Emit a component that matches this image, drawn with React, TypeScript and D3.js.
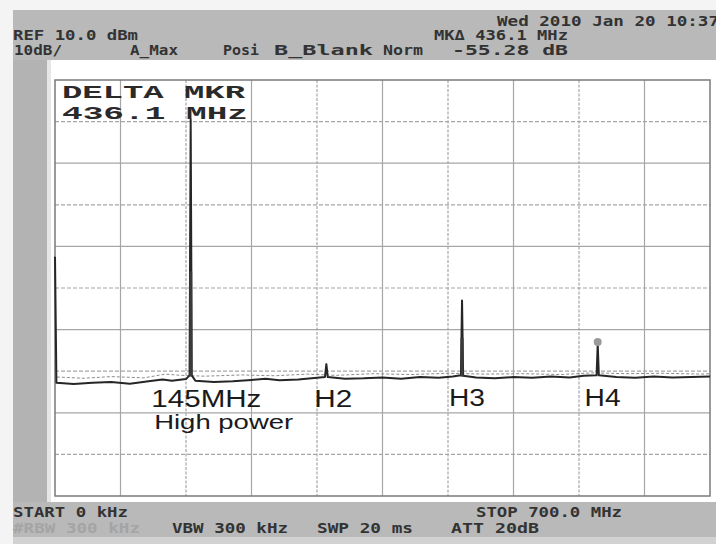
import React from "react";
import * as d3 from "d3";

// spectrum analyzer screen: 0-700 MHz, ref 10 dBm, 10 dB/div
const span = [0, 700];
const refLevel = 10;
const dbPerDiv = 10;

// trace (MHz, dBm)
const traceFreq = [0, 1.5, 20, 40, 60, 80, 100, 115, 125, 140, 143.8, 145, 146.2, 150, 170, 190, 210, 225, 240, 260, 280, 288.5, 290, 291.5, 310, 330, 350, 370, 390, 410, 425, 433.8, 435, 436.2, 450, 470, 490, 510, 530, 550, 565, 578.8, 580, 581.2, 600, 620, 640, 660, 680, 700];
const traceLevel = [-32.5, -62.8, -63.1, -62.8, -62.6, -63, -62.4, -62, -62.3, -61.9, -61, 0.5, -61, -62.3, -62.6, -62.4, -62.1, -61.8, -62.2, -62, -61.6, -61.4, -58.3, -61.4, -61.8, -61.7, -61.5, -61.8, -61.4, -61.6, -61.3, -61, -43, -61.1, -61.5, -61.7, -61.4, -61.6, -61.3, -61.5, -61.1, -61, -53.5, -61, -61.4, -61.6, -61.3, -61.5, -61.4, -61.3];

// lighter max-hold fuzz above the floor
const fuzzFreq = [2, 30, 60, 95, 118, 135, 160, 200, 235, 270, 300, 340, 380, 420, 460, 500, 540, 575, 610, 650, 690, 700];
const fuzzLevel = [-61.4, -61.7, -61.3, -61.6, -60.7, -61, -61.2, -60.9, -61.1, -60.7, -61, -60.6, -60.8, -60.5, -60.7, -60.6, -60.8, -60.4, -60.6, -60.5, -60.7, -60.6];

// harmonic peaks with a thicker lower part
const peakFreq = [145, 435];
const peakThick = [-36, -52];
const markerFreq = 580;
const markerLevel = -53;

const headerRow1 = [{ t: "Wed 2010 Jan 20 10:37", x: 497, w: 222 }];
const headerRow2 = [
  { t: "REF 10.0 dBm", x: 13, w: 125 },
  { t: "MK\u0394 436.1 MHz", x: 434, w: 134 },
];
const headerRow3 = [
  { t: "10dB/", x: 14, w: 48 },
  { t: "A_Max", x: 130, w: 48 },
  { t: "Posi", x: 223, w: 36 },
  { t: "B_Blank", x: 274, w: 99 },
  { t: "Norm", x: 383, w: 40 },
  { t: "-55.28 dB", x: 452, w: 116 },
];
const footerRow1 = [
  { t: "START 0 kHz", x: 13, w: 115 },
  { t: "STOP 700.0 MHz", x: 476, w: 146 },
];
const footerRow2 = [
  { t: "#RBW 300 kHz", x: 13, w: 127, c: "#a4a4a4" },
  { t: "VBW 300 kHz", x: 172, w: 116 },
  { t: "SWP 20 ms", x: 317, w: 96 },
  { t: "ATT 20dB", x: 451, w: 88 },
];

const labels = [
  { t: "145MHz", f: 145 - 42, y: 407, w: 110, s: 23 },
  { t: "High power", f: 145 - 39, y: 429, w: 139, s: 20 },
  { t: "H2", f: 277, y: 407, w: 38, s: 23 },
  { t: "H3", f: 421, y: 406, w: 36, s: 23 },
  { t: "H4", f: 566, y: 406, w: 36, s: 23 },
];

export default function App() {
  const left = 55, right = 710, top = 80, bottom = 496;
  const x = d3.scaleLinear().domain(span).range([left, right]);
  const y = d3
    .scaleLinear()
    .domain([refLevel - 10 * dbPerDiv, refLevel])
    .range([bottom, top]);

  const xGrid = d3.range(0, 11).map((i) => span[0] + (i * (span[1] - span[0])) / 10);
  const yGrid = d3.range(0, 11).map((i) => refLevel - i * dbPerDiv);

  const line = d3
    .line<number>()
    .x((_, i) => x(traceFreq[i]))
    .y((d) => y(d));
  const fuzzLine = d3
    .line<number>()
    .x((_, i) => x(fuzzFreq[i]))
    .y((d) => y(d));

  const mono = "'DejaVu Sans Mono', monospace";
  const textRow = (rows: any[], baseline: number, color = "#333333") =>
    rows.map((r) => (
      <text
        key={r.t}
        x={r.x}
        y={baseline}
        fontFamily={mono}
        fontWeight="bold"
        fontSize={13.5}
        fill={r.c || color}
        textLength={r.w}
        lengthAdjust="spacingAndGlyphs"
      >
        {r.t}
      </text>
    ));

  return (
    <svg
      width={716}
      height={544}
      style={{ position: "absolute", left: 0, top: 0, background: "#f4f4f4" }}
    >
      {/* frame */}
      <rect x={13} y={10} width={703} height={50} fill="#b9b9b9" />
      <rect x={13} y={60} width={34} height={442} fill="#b3b3b3" />
      <rect x={13} y={502} width={703} height={35} fill="#b9b9b9" />
      <rect x={13} y={537} width={703} height={7} fill="#d2d2d2" />
      <rect x={47} y={60} width={669} height={442} fill="#ffffff" />
      <rect x={47} y={60} width={4} height={442} fill="#e6e6e6" />

      {textRow(headerRow1, 26)}
      {textRow(headerRow2, 40)}
      {textRow(headerRow3, 55)}
      {textRow(footerRow1, 517)}
      {textRow(footerRow2, 533)}

      {/* grid */}
      <g>
        {xGrid.slice(1, -1).map((f, i) => (
          <line
            key={"gx" + f}
            x1={x(f)}
            x2={x(f)}
            y1={top}
            y2={bottom}
            stroke="#a6a6a6"
            strokeWidth={1.2}
            strokeDasharray={i % 2 === 1 ? "3 1.5" : undefined}
          />
        ))}
        {yGrid.slice(1, -1).map((v, i) => (
          <line
            key={"gy" + v}
            x1={left}
            x2={right}
            y1={y(v)}
            y2={y(v)}
            stroke="#a6a6a6"
            strokeWidth={1.2}
            strokeDasharray={i % 2 === 0 ? "4 2" : undefined}
          />
        ))}
        <rect
          x={left}
          y={top}
          width={right - left}
          height={bottom - top}
          fill="none"
          stroke="#7a7a7a"
          strokeWidth={1.5}
        />
      </g>

      {/* marker readout */}
      <text x={62} y={98} fontFamily="'Liberation Mono', monospace" fontWeight="bold" fontSize={19} fill="#2a2a2a" textLength={183} lengthAdjust="spacingAndGlyphs">
        DELTA MKR
      </text>
      <text x={62} y={119} fontFamily="'Liberation Mono', monospace" fontWeight="bold" fontSize={19} fill="#2a2a2a" textLength={186} lengthAdjust="spacingAndGlyphs">
        436.1 MHz
      </text>

      {/* traces */}
      <path d={fuzzLine(fuzzLevel) || ""} fill="none" stroke="#8c8c8c" strokeWidth={1} strokeDasharray="3 2" />
      <path d={line(traceLevel) || ""} fill="none" stroke="#262626" strokeWidth={2} strokeLinejoin="round" />
      {peakFreq.map((f, i) => (
        <line
          key={"pk" + f}
          x1={x(f)}
          x2={x(f)}
          y1={y(peakThick[i])}
          y2={y(-61.3)}
          stroke="#3a3a3a"
          strokeWidth={3}
        />
      ))}
      <circle cx={x(markerFreq)} cy={y(markerLevel)} r={4} fill="#9a9a9a" />

      {/* annotations */}
      {labels.map((l) => (
        <text
          key={l.t}
          x={x(l.f)}
          y={l.y}
          fontFamily="'Liberation Sans', Arial, sans-serif"
          fontSize={l.s}
          fill="#1a1a1a"
          textLength={l.w}
          lengthAdjust="spacingAndGlyphs"
        >
          {l.t}
        </text>
      ))}
    </svg>
  );
}
